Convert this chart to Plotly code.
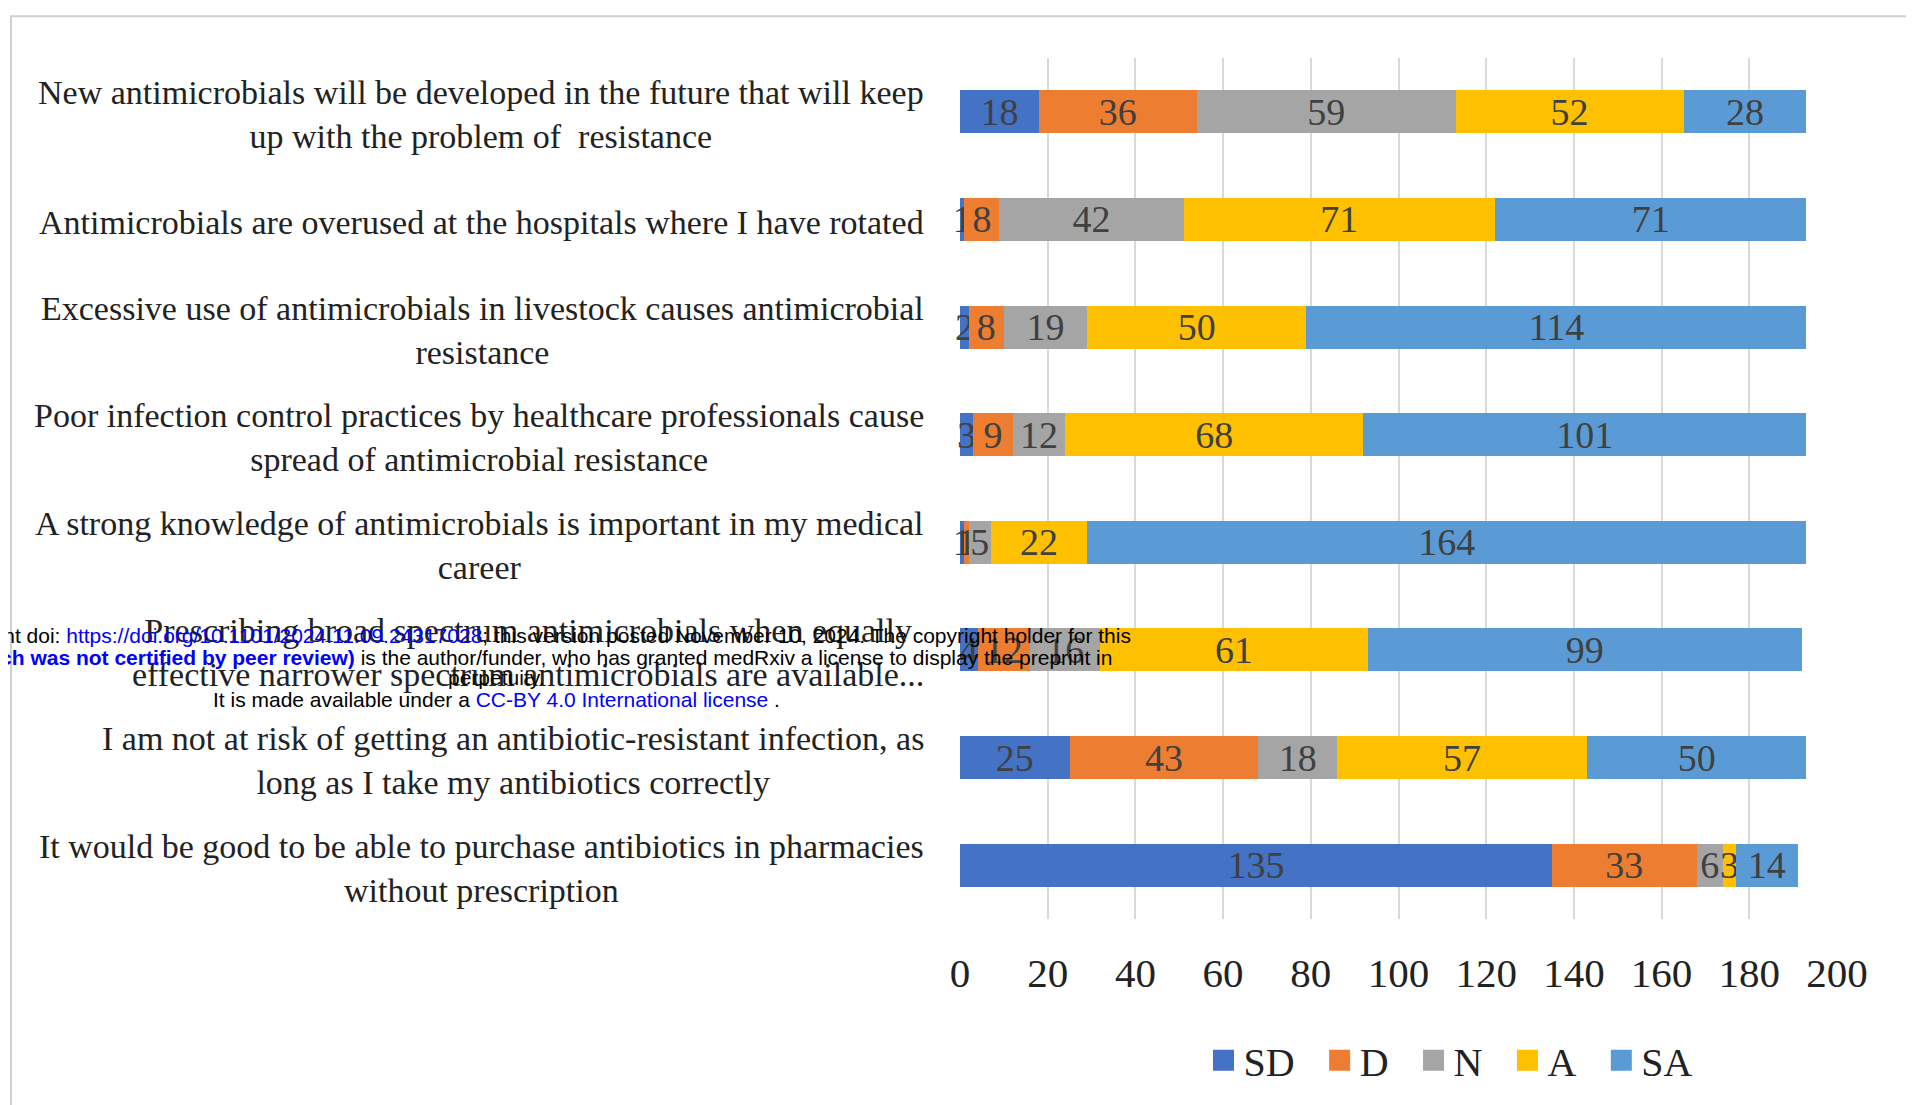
import plotly.graph_objects as go

categories = [
    "New antimicrobials will be developed in the future that will keep<br>up with the problem of  resistance",
    "Antimicrobials are overused at the hospitals where I have rotated",
    "Excessive use of antimicrobials in livestock causes antimicrobial<br>resistance",
    "Poor infection control practices by healthcare professionals cause<br>spread of antimicrobial resistance",
    "A strong knowledge of antimicrobials is important in my medical<br>career",
    "Prescribing broad spectrum antimicrobials when equally<br>effective narrower spectrum antimicrobials are available...",
    "I am not at risk of getting an antibiotic-resistant infection, as<br>long as I take my antibiotics correctly",
    "It would be good to be able to purchase antibiotics in pharmacies<br>without prescription",
]
sd = [18, 1, 2, 3, 1, 4, 25, 135]
d = [36, 8, 8, 9, 1, 12, 43, 33]
n = [59, 42, 19, 12, 5, 16, 18, 6]
a = [52, 71, 50, 68, 22, 61, 57, 3]
sa = [28, 71, 114, 101, 164, 99, 50, 14]
series_names = ["SD", "D", "N", "A", "SA"]
series_values = [sd, d, n, a, sa]
colors = ["#4472C4", "#ED7D31", "#A5A5A5", "#FFC000", "#5B9BD5"]
x_ticks = [0, 20, 40, 60, 80, 100, 120, 140, 160, 180, 200]

SERIF = "Liberation Serif, Times New Roman, serif"
SANS = "Liberation Sans, Arial, sans-serif"
ids = [f"c{i}" for i in range(len(categories))]

# page offset of the plot div (body margin)
OFF = 8
W, H = 1906, 1097
PL, PR, PT, PB = 960 - OFF, 1837 - OFF, 58 - OFF, 924 - OFF  # plot box in figure px
PW, PH = PR - PL, PB - PT


def px_x(page_x):
    return (page_x - OFF - PL) / PW


def px_y(page_y):
    return (PB - (page_y - OFF)) / PH


fig = go.Figure()
for name, vals, col in zip(series_names, series_values, colors):
    fig.add_trace(go.Bar(
        y=ids, x=vals, name=name, orientation="h",
        marker=dict(color=col, line=dict(width=0)),
        text=[str(v) for v in vals], textposition="inside",
        insidetextanchor="middle", textangle=0,
        textfont=dict(family=SERIF, size=38, color="#404040"),
        showlegend=False, cliponaxis=False,
    ))
NBSP = "\u00a0"
for i, (name, col) in enumerate(zip(series_names, colors)):
    pad = NBSP * 2 if i < len(series_names) - 1 else ""
    fig.add_trace(go.Scatter(
        x=[None], y=[None], mode="markers", name=name + pad,
        marker=dict(symbol="square", size=16, color=col,
                    line=dict(color=col, width=5)),
    ))

annotations = []
for cid, label in zip(ids, categories):
    annotations.append(dict(
        xref="paper", yref="y", x=0, y=cid, text=label,
        xanchor="right", yanchor="middle", align="center",
        xshift=-34, yshift=-3,
        showarrow=False, font=dict(family=SERIF, size=34, color="#222222"),
    ))

wm_lines = [
    ("medRxiv preprint doi: <span style='color:#0000ff'>https://doi.org/10.1101/2024.11.09.24317028</span>; this version posted November 10, 2024. The copyright holder for this", 639),
    ("preprint <span style='color:#0000ff'><b>(which was not certified by peer review)</b></span> is the author/funder, who has granted medRxiv a license to display the preprint in", 661),
    ("perpetuity.", 681),
    ("It is made available under a <span style='color:#0000ff'>CC-BY 4.0 International license</span> .", 703),
]
for txt, py in wm_lines:
    annotations.append(dict(
        xref="paper", yref="paper", x=px_x(496), y=px_y(py), text=txt,
        xanchor="center", yanchor="middle", showarrow=False,
        font=dict(family=SANS, size=21, color="#000000"),
    ))

fig.update_layout(
    width=W, height=H,
    margin=dict(l=PL, r=W - PR, t=PT, b=H - PB),
    paper_bgcolor="white", plot_bgcolor="white",
    barmode="stack", bargap=0.6,
    uniformtext=dict(minsize=38, mode="show"),
    xaxis=dict(range=[0, 200], tickmode="array", tickvals=x_ticks,
               showgrid=True, gridcolor="#d9d9d9", gridwidth=2,
               zeroline=False, showline=False, ticks="",
               tickfont=dict(family=SERIF, size=41, color="#222222"),
               ticklabelstandoff=26),
    yaxis=dict(categoryorder="array", categoryarray=ids, autorange="reversed",
               showticklabels=False, showgrid=False, zeroline=False, ticks=""),
    legend=dict(orientation="h", x=px_x(1451), xanchor="center",
                y=px_y(1066), yanchor="middle", traceorder="normal",
                font=dict(family=SERIF, size=40, color="#222222"),
                itemsizing="trace", bgcolor="rgba(0,0,0,0)"),
    annotations=annotations,
    shapes=[dict(type="rect", xref="paper", yref="paper",
                 x0=px_x(11), x1=px_x(1908),
                 y0=px_y(1115), y1=px_y(16),
                 line=dict(color="#d0d0d0", width=2), layer="below")],
)

fig.write_html("out.html")
